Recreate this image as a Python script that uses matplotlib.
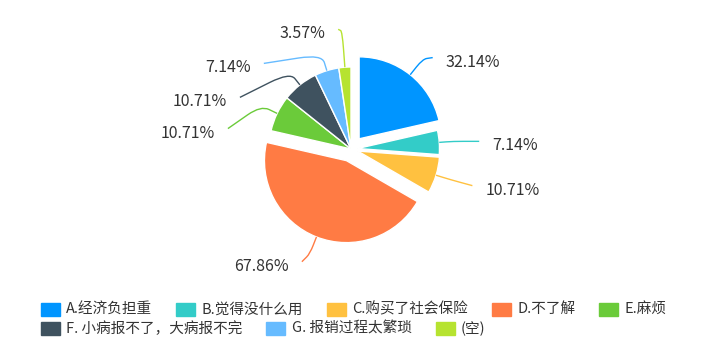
import numpy as np
import matplotlib.pyplot as plt
from matplotlib.path import Path
from matplotlib.patches import PathPatch, Rectangle

plt.rcParams['font.family'] = ['Noto Sans CJK SC', 'DejaVu Sans']

# 不参加医保的原因（多选，比例合计超过100%）
categories = ['A.经济负担重', 'B.觉得没什么用', 'C.购买了社会保险', 'D.不了解', 'E.麻烦',
              'F. 小病报不了，大病报不完', 'G. 报销过程太繁琐', '(空)']
percents = [32.14, 7.14, 10.71, 67.86, 10.71, 10.71, 7.14, 3.57]

# styles
colors = ['#0095ff', '#33ccc8', '#ffc140', '#ff7b44', '#6bcb3a', '#3f525f', '#66bbff', '#b6e330']
explode = [13, 6.5, 7, 12.5, 0, 0, 0, 0]   # px
# leader lines: radial length, then offset of the end point (px)
line_len1 = [20, 14, 15, 18, 18, 16, 17, 36]
line_end = [(10, 1.5), (26, 0), (22, -6), (-8, -8), (-33, -23), (-50, -25), (-58, -9), (-4, 2)]

W, H = 702, 357
fig = plt.figure(figsize=(W / 100, H / 100), dpi=100)
ax = fig.add_axes([0, 0, 1, 1])
cx, cy, R = 351, H - 149, 82

wedges, _ = ax.pie(percents, colors=colors, explode=explode, radius=R, center=(cx, cy),
                   startangle=90, counterclock=False,
                   wedgeprops=dict(edgecolor='white', linewidth=1))
ax.set_xlim(0, W)
ax.set_ylim(0, H)
ax.set_aspect('equal')
ax.axis('off')

# leader lines + labels
for w, p, n1, (dx, dy), c in zip(wedges, percents, line_len1, line_end, colors):
    a = np.deg2rad((w.theta1 + w.theta2) / 2)
    ux, uy = np.cos(a), np.sin(a)
    x0, y0 = w.center[0] + w.r * ux, w.center[1] + w.r * uy
    x1, y1 = x0 + n1 * ux, y0 + n1 * uy
    x2, y2 = x1 + dx, y1 + dy
    pa = (x0 + 0.5 * (x1 - x0), y0 + 0.5 * (y1 - y0))
    pb = (x1 + 0.4 * dx, y1 + 0.4 * dy)
    verts = [(x0, y0), pa, (x1, y1), pb, (x2, y2)]
    codes = [Path.MOVETO, Path.LINETO, Path.CURVE3, Path.CURVE3, Path.LINETO]
    ax.add_patch(PathPatch(Path(verts, codes), fill=False, edgecolor=c, lw=1.0))
    side = 1 if ux > 0 else -1
    ax.text(x2 + side * 13, y2 - 4.5, f'{p:.2f}%', ha='left' if side > 0 else 'right',
            va='center', fontsize=11.5, color='#333333')

# legend (flow layout like the original)
renderer = fig.canvas.get_renderer()
x, row_y = 40.7, H - 309.3
for lab, c in zip(categories, colors):
    t = ax.text(x + 25.3, row_y, lab, fontsize=10.5, color='#333333', va='center', ha='left')
    tw = t.get_window_extent(renderer).width
    if x + 25.3 + tw > 690:
        x = 40.7
        row_y -= 19.5
        t.set_position((x + 25.3, row_y))
    ax.add_patch(Rectangle((x, row_y - 6.5), 19, 13, color=c))
    x += 25.3 + tw + 24

fig.savefig('out.png', dpi=100)
